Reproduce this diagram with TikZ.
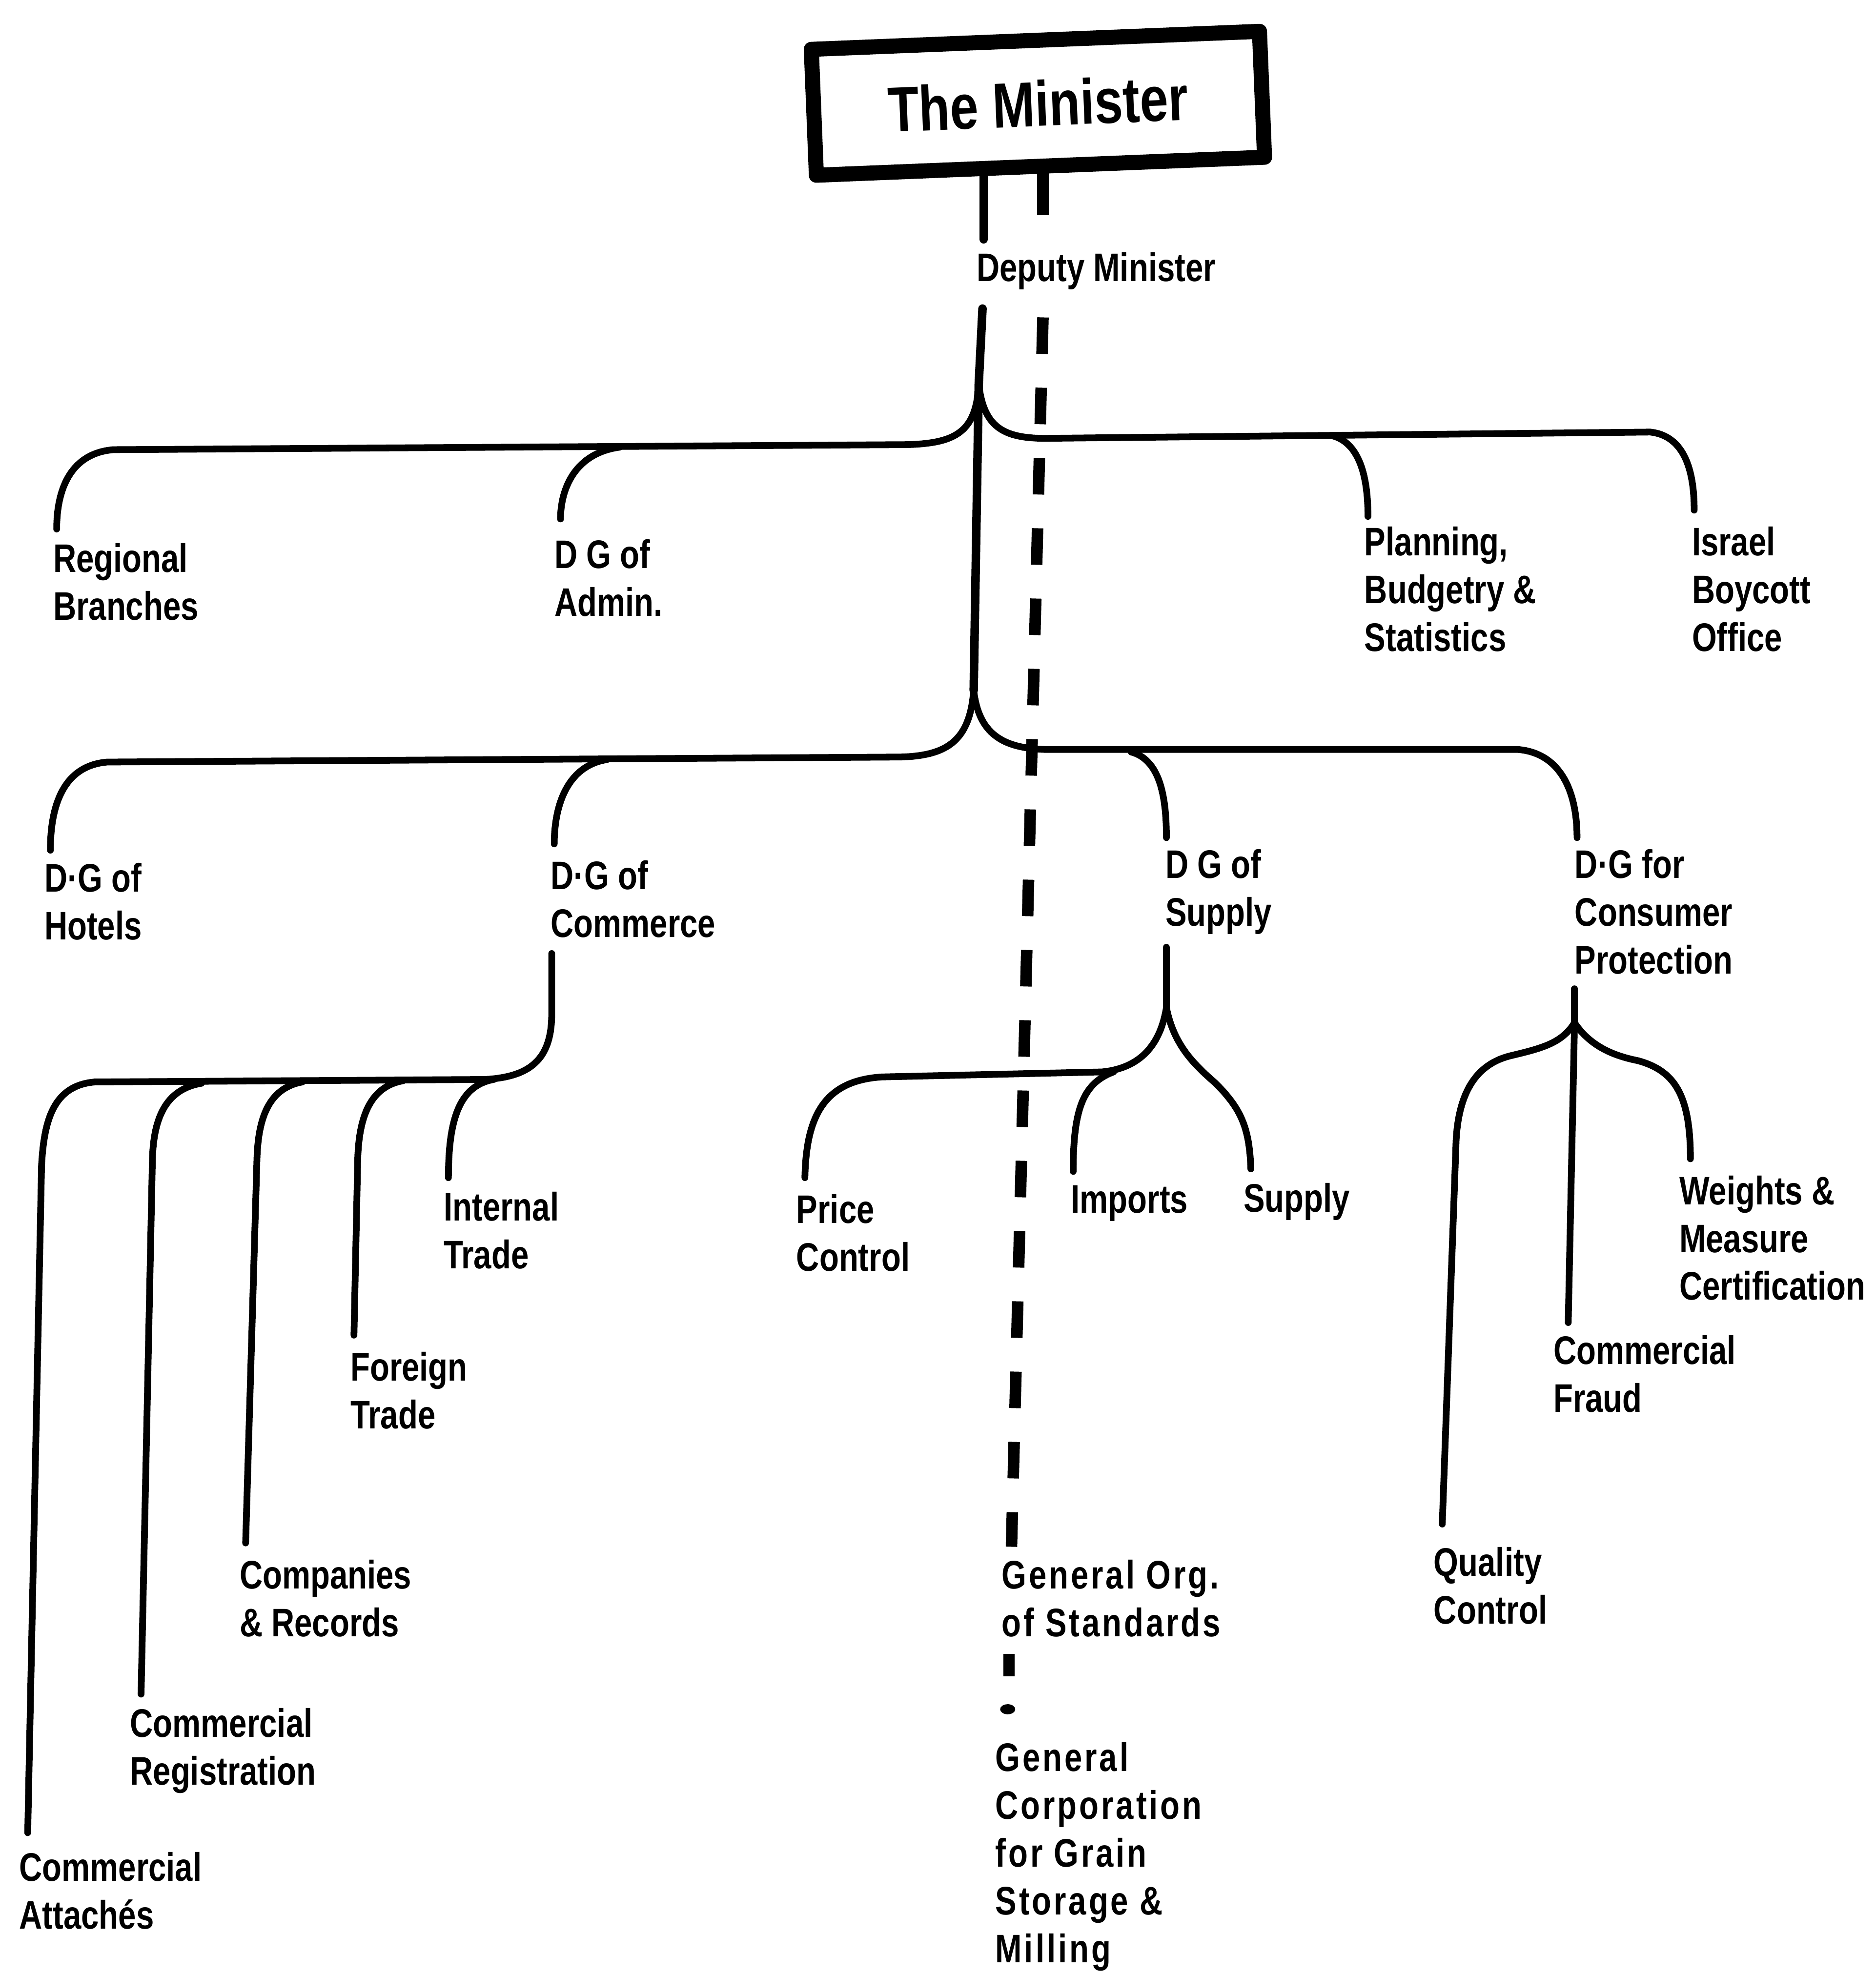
\documentclass[tikz,border=0pt]{standalone}
\usepackage{fontspec}
\setmainfont[FakeStretch=0.8]{Liberation Sans}
\newfontfamily\widefont[FakeStretch=0.8,LetterSpace=6]{Liberation Sans}
\begin{document}
\begin{tikzpicture}[x=0.025cm,y=-0.025cm,line cap=round,line join=round,
  conn/.style={line width=3.8pt},
  trunk/.style={line width=4.8pt},
  lbl/.style={anchor=north west,inner sep=0pt,align=left,font=\bfseries\fontsize{22.5}{27}\selectfont},
  wlbl/.style={lbl,font=\widefont\bfseries\fontsize{22.5}{27}\selectfont},
  dashl/.style={line width=6.5pt,line cap=butt,dash pattern=on 0.725cm off 0.67cm}]
\useasboundingbox (0,0) rectangle (1489,1568);

% nodes
\node[draw,line width=8.5pt,rotate=2.3,minimum width=8.9cm,minimum height=2.5cm,inner sep=0pt,
      font=\bfseries\fontsize{36}{40}\selectfont] (minister) at (824,82) {The Minister};
\node[lbl] (deputy) at (775,200) {Deputy Minister};
\node[lbl] (regional) at (42,431) {Regional\\Branches};
\node[lbl] (admin) at (440,428) {D G of\\Admin.};
\node[lbl] (planning) at (1083,418) {Planning,\\Budgetry \&\\Statistics};
\node[lbl] (boycott) at (1343,418) {Israel\\Boycott\\Office};
\node[lbl] (hotels) at (35,685) {D·G of\\Hotels};
\node[lbl] (commerce) at (437,683) {D·G of\\Commerce};
\node[lbl] (supply) at (925,674) {D G of\\Supply};
\node[lbl] (consumer) at (1250,674) {D·G for\\Consumer\\Protection};
\node[lbl] (internal) at (352,946) {Internal\\Trade};
\node[lbl] (foreign) at (278,1073) {Foreign\\Trade};
\node[lbl] (companies) at (190,1238) {Companies\\\& Records};
\node[lbl] (registration) at (103,1356) {Commercial\\Registration};
\node[lbl] (attaches) at (15,1470) {Commercial\\Attachés};
\node[lbl] (price) at (632,948) {Price\\Control};
\node[lbl] (imports) at (850,941) {Imports};
\node[lbl] (supplyu) at (987,939) {Supply};
\node[lbl] (weights) at (1333,933) {Weights \&\\Measure\\Certification};
\node[lbl] (fraud) at (1233,1060) {Commercial\\Fraud};
\node[lbl] (quality) at (1138,1228) {Quality\\Control};
\node[wlbl] (gos) at (795,1238) {General Org.\\of Standards};
\node[wlbl] (gcgsm) at (790,1383) {General\\Corporation\\for Grain\\Storage \&\\Milling};

% named points
\coordinate (mb) at (781,139);
\coordinate (mbd) at (828,137);
\coordinate (dtop) at (780,245);
\coordinate (t1) at (777,305);
\coordinate (t2) at (773,548);
\coordinate (cm) at (438,757);
\coordinate (sp) at (926,752);
\coordinate (cp) at (1250,785);

% minister -> deputy
\draw[trunk] (mb) -- (781,190);
\draw[dashl,dash pattern=on 0.85cm off 1cm] (mbd) -- (828,172);
\draw[trunk] (dtop) -- (t1) -- (t2);

% level 1
\draw[conn] (t1) .. controls (775,342) and (760,352) .. (720,353) -- (90,357)
  .. controls (55,360) and (45,390) .. (45,420);
\draw[conn] (492,355) .. controls (455,360) and (445,390) .. (445,412);
\draw[conn] (t1) .. controls (781,338) and (795,348) .. (830,348) -- (1310,343)
  .. controls (1338,346) and (1345,375) .. (1345,405);
\draw[conn] (1058,346) .. controls (1080,352) and (1086,380) .. (1086,410);

% level 2
\draw[conn] (t2) .. controls (770,588) and (752,600) .. (715,601) -- (85,605)
  .. controls (50,608) and (40,640) .. (40,675);
\draw[conn] (482,603) .. controls (450,608) and (440,640) .. (440,670);
\draw[conn] (t2) .. controls (777,582) and (795,594) .. (830,595) -- (1205,595)
  .. controls (1240,598) and (1252,630) .. (1252,665);
\draw[conn] (898,597) .. controls (920,603) and (926,630) .. (926,665);

% commerce subtree
\draw[conn] (cm) -- (438,805) .. controls (438,842) and (420,855) .. (385,857) -- (75,859)
  .. controls (42,862) and (35,890) .. (33,925) -- (22,1455);
\draw[conn] (160,860) .. controls (130,865) and (122,890) .. (121,920) -- (112,1345);
\draw[conn] (240,859) .. controls (212,864) and (205,890) .. (204,920) -- (195,1225);
\draw[conn] (320,858) .. controls (292,863) and (285,890) .. (284,920) -- (281,1060);
\draw[conn] (392,857) .. controls (364,862) and (356,890) .. (356,935);

% supply subtree
\draw[conn] (sp) -- (926,800) .. controls (921,830) and (905,848) .. (875,851) -- (700,855)
  .. controls (655,858) and (640,885) .. (639,935);
\draw[conn] (884,851) .. controls (860,860) and (852,880) .. (852,930);
\draw[conn] (926,800) .. controls (932,830) and (948,845) .. (965,860)
  .. controls (985,880) and (992,895) .. (993,928);

% consumer subtree
\draw[conn] (cp) -- (1250,812);
\draw[conn] (1250,812) .. controls (1240,828) and (1225,832) .. (1200,838)
  .. controls (1170,845) and (1158,870) .. (1156,905) -- (1145,1210);
\draw[conn] (1250,812) -- (1245,1050);
\draw[conn] (1250,812) .. controls (1262,830) and (1280,838) .. (1300,842)
  .. controls (1330,850) and (1342,870) .. (1342,920);

% dashed line to standards and grain corporation
\draw[dashl] (828,252) -- (803,1228);
\draw[dashl,dash pattern=on 0.45cm off 1cm] (801,1313) -- (801,1332);
\fill (800,1357) ellipse (6 and 4);
\end{tikzpicture}
\end{document}
